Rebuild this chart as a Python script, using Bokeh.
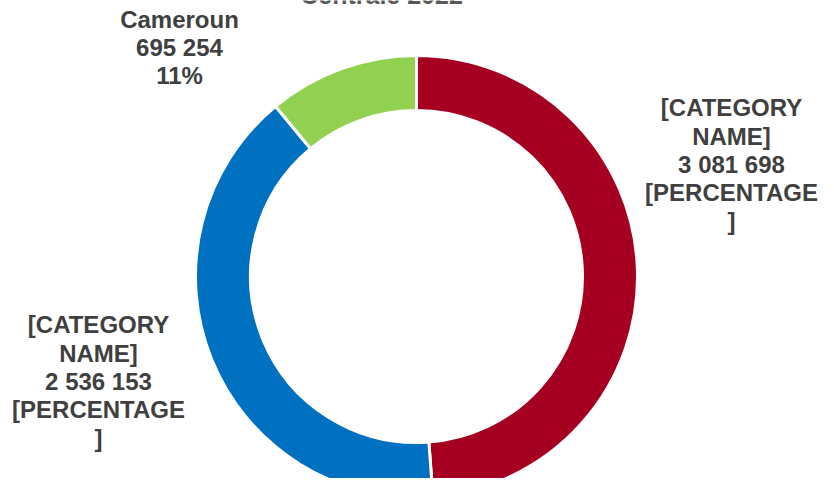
from math import pi
from bokeh.plotting import figure
from bokeh.models import Range1d, ColumnDataSource
from bokeh.core.properties import value
from bokeh.embed import file_html
from bokeh.resources import INLINE

# ---- data ----
categories = ["[CATEGORY\nNAME]", "[CATEGORY\nNAME]", "Cameroun"]
values = [3081698, 2536153, 695254]
pct_labels = ["[PERCENTAGE\n]", "[PERCENTAGE\n]", "11%"]
colors = ["#A50021", "#0070C0", "#92D050"]
title_text = "Centrale 2022"

W, H = 818, 478
# coordinates: x = screen px, y = 494 - screen px
p = figure(width=W, height=H, output_backend="svg", toolbar_location=None,
           x_range=Range1d(0, W), y_range=Range1d(494 - H, 494),
           min_border=0, outline_line_color=None)
p.axis.visible = False
p.grid.visible = False
p.background_fill_color = "white"
p.border_fill_color = "white"

cx, cy = 416, 494 - 276
r_out, r_in = 221, 166

total = sum(values)
starts, ends = [], []
a = pi / 2
for v in values:
    starts.append(a)
    a = a - v / total * 2 * pi
    ends.append(a)

src = ColumnDataSource(dict(start=starts, end=ends, color=colors))
p.annular_wedge(x=cx, y=cy, inner_radius=r_in, outer_radius=r_out,
                start_angle="start", end_angle="end", direction="clock",
                fill_color="color", line_color="white", line_width=3,
                source=src)

texts = []
for name, v, pc in zip(categories, values, pct_labels):
    texts.append(f"{name}\n{v:,}".replace(",", " ") + f"\n{pc}")
lx = [731, 98, 179]
ly = [494 - 164, 494 - 381, 494 - 47]
lsrc = ColumnDataSource(dict(x=lx, y=ly, t=texts))
p.text(x="x", y="y", text="t", source=lsrc, text_align="center",
       text_baseline="middle", text_font=value("Liberation Sans"),
       text_font_style="bold", text_font_size="24px", text_color="#404040",
       text_line_height=1.05)

p.text(x=[381], y=[494 + 6], text=[title_text], text_align="center",
       text_baseline="alphabetic", text_font=value("Liberation Sans"),
       text_font_style="bold", text_font_size="25px", text_color="#595959")

open("out.html", "w").write(file_html(p, INLINE))
